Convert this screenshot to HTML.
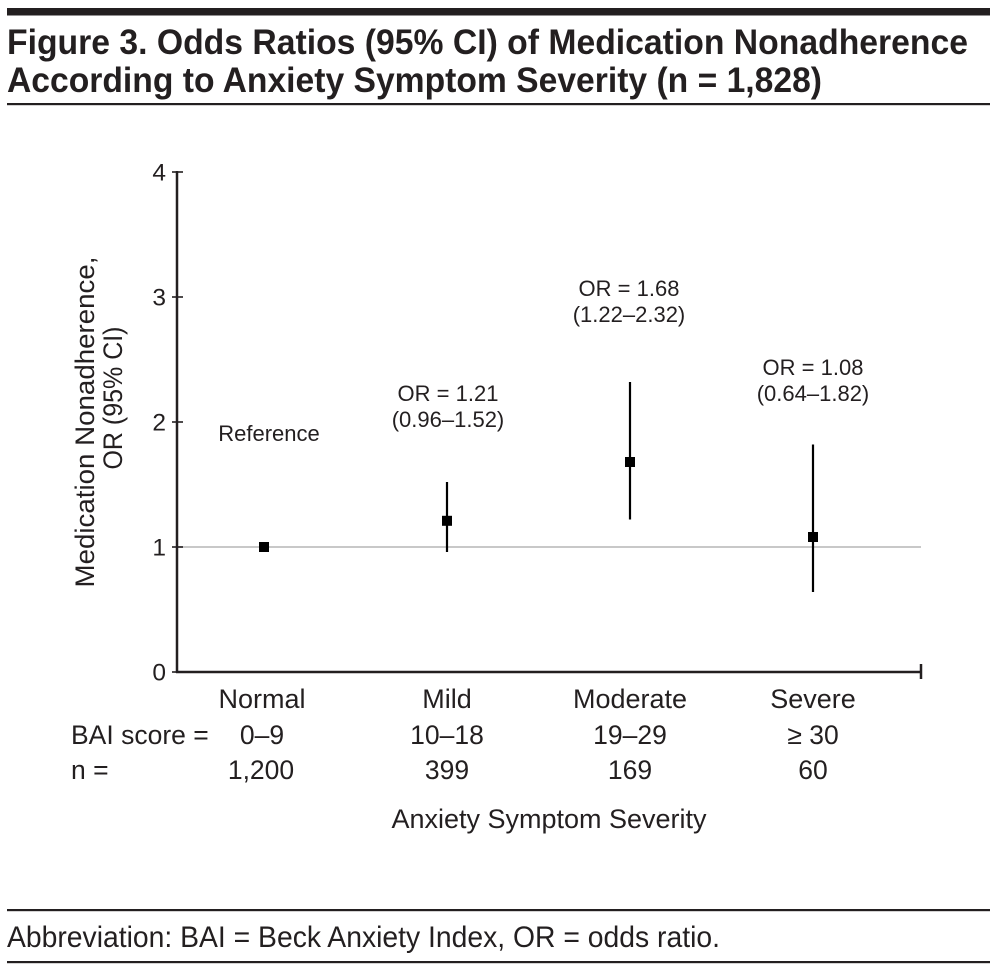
<!DOCTYPE html>
<html>
<head>
<meta charset="utf-8">
<style>
  html,body{margin:0;padding:0;background:#fff;}
  svg{display:block;}
  text{font-family:"Liberation Sans",Arial,sans-serif;fill:#231f20;}
</style>
</head>
<body>
<svg width="996" height="971" viewBox="0 0 996 971" xmlns="http://www.w3.org/2000/svg">
  <!-- header -->
  <rect x="7" y="8" width="983" height="7.5" fill="#231f20"/>
  <text x="7" y="54" font-size="35" font-weight="bold" textLength="961" lengthAdjust="spacingAndGlyphs">Figure 3. Odds Ratios (95% CI) of Medication Nonadherence</text>
  <text x="7" y="92" font-size="35" font-weight="bold" textLength="815" lengthAdjust="spacingAndGlyphs">According to Anxiety Symptom Severity (n = 1,828)</text>
  <rect x="7" y="103" width="983" height="2.2" fill="#231f20"/>

  <!-- reference line at OR = 1 -->
  <line x1="178" y1="547" x2="921" y2="547" stroke="#c8c8c8" stroke-width="2"/>

  <!-- axes -->
  <line x1="177" y1="171" x2="177" y2="673" stroke="#231f20" stroke-width="2.5"/>
  <line x1="176" y1="672" x2="921" y2="672" stroke="#231f20" stroke-width="2.5"/>
  <line x1="921" y1="664" x2="921" y2="679" stroke="#231f20" stroke-width="2.5"/>
  <g stroke="#231f20" stroke-width="1.6">
    <line x1="172" y1="172" x2="183" y2="172"/>
    <line x1="172" y1="297" x2="183" y2="297"/>
    <line x1="172" y1="422" x2="183" y2="422"/>
    <line x1="172" y1="547" x2="183" y2="547"/>
    <line x1="172" y1="672" x2="183" y2="672"/>
  </g>
  <g font-size="24.5" text-anchor="end">
    <text x="166" y="180.5">4</text>
    <text x="166" y="305.5">3</text>
    <text x="166" y="430.5">2</text>
    <text x="166" y="555.5">1</text>
    <text x="166" y="680.5">0</text>
  </g>

  <!-- y-axis label -->
  <text font-size="27" text-anchor="middle" textLength="331" lengthAdjust="spacingAndGlyphs" transform="translate(94,422) rotate(-90)">Medication Nonadherence,</text>
  <text font-size="27" text-anchor="middle" textLength="143" lengthAdjust="spacingAndGlyphs" transform="translate(122,398) rotate(-90)">OR (95% CI)</text>

  <!-- error bars -->
  <g stroke="#000" stroke-width="2.2">
    <line x1="447" y1="482" x2="447" y2="552"/>
    <line x1="630" y1="382" x2="630" y2="519.5"/>
    <line x1="813" y1="444.5" x2="813" y2="592"/>
  </g>
  <!-- markers -->
  <g fill="#000">
    <rect x="259" y="542" width="10" height="10"/>
    <rect x="442" y="515.8" width="10" height="10"/>
    <rect x="625" y="457" width="10" height="10"/>
    <rect x="808" y="532" width="10" height="10"/>
  </g>

  <!-- annotations -->
  <g font-size="22" text-anchor="middle">
    <text x="269" y="441">Reference</text>
    <text x="448" y="401">OR = 1.21</text>
    <text x="448" y="427">(0.96–1.52)</text>
    <text x="629" y="296">OR = 1.68</text>
    <text x="629" y="322">(1.22–2.32)</text>
    <text x="813" y="375">OR = 1.08</text>
    <text x="813" y="401">(0.64–1.82)</text>
  </g>

  <!-- category labels -->
  <g font-size="27" text-anchor="middle">
    <text x="262" y="708">Normal</text>
    <text x="447" y="708">Mild</text>
    <text x="630" y="708">Moderate</text>
    <text x="813" y="708">Severe</text>
  </g>
  <g font-size="26.5">
    <text x="71" y="744">BAI score =</text>
    <text x="71" y="779">n =</text>
  </g>
  <g font-size="26.5" text-anchor="middle">
    <text x="262" y="744">0–9</text>
    <text x="447" y="744">10–18</text>
    <text x="630" y="744">19–29</text>
    <text x="813" y="744">≥ 30</text>
    <text x="261" y="779">1,200</text>
    <text x="447" y="779">399</text>
    <text x="630" y="779">169</text>
    <text x="813" y="779">60</text>
  </g>
  <text x="549" y="828" font-size="27" text-anchor="middle">Anxiety Symptom Severity</text>

  <!-- footer -->
  <rect x="7" y="909" width="983" height="2.2" fill="#231f20"/>
  <text x="7" y="947" font-size="30" textLength="713" lengthAdjust="spacingAndGlyphs">Abbreviation: BAI = Beck Anxiety Index, OR = odds ratio.</text>
  <rect x="7" y="961" width="983" height="2.2" fill="#231f20"/>
</svg>
</body>
</html>
